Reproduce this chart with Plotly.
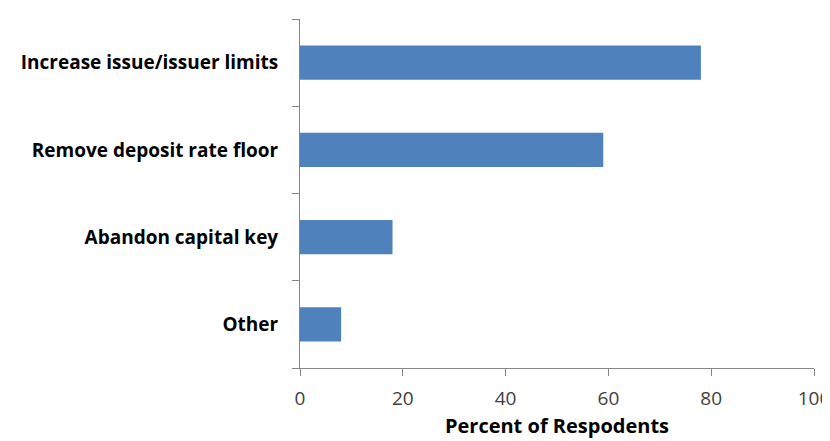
import plotly.graph_objects as go

categories = ["Increase issue/issuer limits", "Remove deposit rate floor", "Abandon capital key", "Other"]
values = [78, 59, 18, 8]
x_ticks = [0, 20, 40, 60, 80, 100]

fig = go.Figure(go.Bar(
    x=values, y=categories, orientation="h",
    marker=dict(color="#4F81BD", line=dict(width=0)),
    width=0.39,
))

fig.update_layout(
    width=830, height=441,
    margin=dict(l=292, r=24, t=10.5, b=80.5),
    paper_bgcolor="white", plot_bgcolor="white",
    showlegend=False,
    font=dict(family="Open Sans, sans-serif", color="#000000"),
)
fig.update_xaxes(
    range=[0, 100], tickvals=x_ticks, ticktext=[str(v) for v in x_ticks],
    showgrid=False, zeroline=False, automargin=False,
    showline=True, linecolor="#868686", linewidth=1,
    ticks="outside", ticklen=7, tickcolor="#868686",
    tickfont=dict(size=19, color="#404040", family="Open Sans, sans-serif"),
    ticklabelstandoff=6,
    title=dict(text="<b>Percent of Respodents</b>", font=dict(size=20, color="#000000"), standoff=9),
)
fig.update_yaxes(
    categoryorder="array", categoryarray=categories[::-1],
    showgrid=False, zeroline=False, automargin=False,
    showline=True, linecolor="#868686", linewidth=1,
    ticks="outside", ticklen=7, tickcolor="#868686", tickson="boundaries",
    tickfont=dict(size=19, color="#000000", family="Open Sans, sans-serif", weight="bold"),
    ticklabelstandoff=17,
)

fig.write_html("out.html")
